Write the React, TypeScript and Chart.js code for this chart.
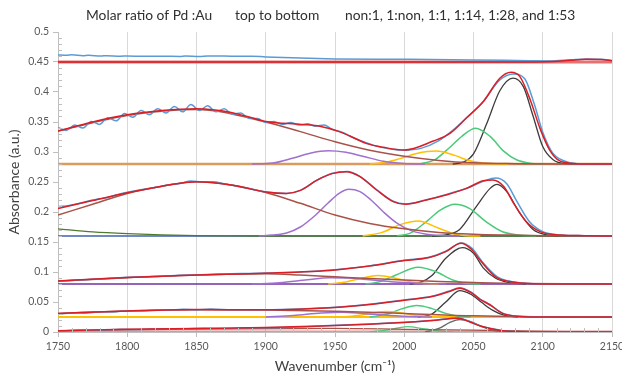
import React, { useEffect, useRef } from 'react';
import { Chart, registerables } from 'chart.js';
Chart.register(...registerables);

type P = [number, number][];

const titleParts = ['Molar ratio of Pd :Au', 'top to bottom', 'non:1, 1:non, 1:1, 1:14, 1:28, and 1:53'];
const xTitle = 'Wavenumber (cm\u207B\u00B9)';
const yTitle = 'Absorbance (a.u.)';
const xRange = [1750, 2150];
const yRange = [0, 0.5];

// ---- spectrum 1 (non:1) ----
const s1Base: P = [[1750, 0.45], [2150, 0.45]];
const s1Data: P = [[1750, 0.4618], [1756, 0.4611], [1760, 0.4619], [1768, 0.4605], [1772, 0.4611], [1781, 0.4600], [1785, 0.4606], [1795, 0.4597], [1800, 0.4600], [1812, 0.4595], [1825, 0.4597], [1838, 0.4593], [1842, 0.4600], [1852, 0.4591], [1858, 0.4598], [1870, 0.4599], [1880, 0.4594], [1890, 0.4596], [1900, 0.4585], [1925, 0.4565], [1950, 0.4552], [2000, 0.4545], [2050, 0.4535], [2090, 0.4522], [2105, 0.4518], [2120, 0.4538], [2132, 0.4552], [2142, 0.4545], [2150, 0.4525]];
const s1Fit: P = [[1750, 0.45], [2095, 0.45], [2108, 0.4508], [2120, 0.4528], [2131, 0.4545], [2142, 0.454], [2150, 0.4522]];

// ---- spectrum 2 (1:non) ----
const s2Base: P = [[1750, 0.28], [2150, 0.28]];
const s2Data: P = [[1750, 0.341], [1756, 0.336], [1762, 0.345], [1768, 0.340], [1774, 0.351], [1780, 0.346], [1786, 0.357], [1792, 0.352], [1798, 0.364], [1804, 0.358], [1810, 0.369], [1816, 0.362], [1822, 0.372], [1828, 0.365], [1834, 0.376], [1840, 0.367], [1846, 0.379], [1852, 0.369], [1858, 0.377], [1864, 0.367], [1870, 0.372], [1876, 0.363], [1882, 0.365], [1888, 0.356], [1894, 0.356], [1900, 0.349], [1906, 0.351], [1912, 0.346], [1918, 0.349], [1924, 0.345], [1930, 0.347], [1936, 0.343], [1942, 0.345], [1948, 0.338], [1955, 0.333], [1965, 0.322], [1978, 0.311], [1990, 0.305], [2000, 0.303], [2012, 0.306], [2025, 0.319], [2035, 0.336], [2045, 0.357], [2057, 0.384], [2069, 0.420], [2079, 0.430], [2087, 0.422], [2094, 0.379], [2100, 0.333], [2107, 0.299], [2115, 0.2855], [2125, 0.2806], [2150, 0.28]];
const s2Fit: P = [[1750, 0.335], [1775, 0.35], [1800, 0.362], [1825, 0.369], [1850, 0.372], [1875, 0.366], [1900, 0.351], [1926, 0.346], [1939, 0.343], [1953, 0.334], [1965, 0.322], [1973, 0.314], [1985, 0.3078], [2000, 0.3033], [2021, 0.3183], [2033, 0.331], [2045, 0.357], [2057, 0.3838], [2069, 0.4228], [2077, 0.4328], [2083.5, 0.4256], [2091, 0.3867], [2098, 0.3394], [2105, 0.3033], [2112, 0.2855], [2122, 0.281], [2135, 0.28], [2150, 0.28]];
const s2Broad: P = [[1750, 0.335], [1800, 0.361], [1850, 0.371], [1900, 0.35], [1925, 0.334], [1950, 0.317], [1975, 0.303], [2000, 0.293], [2025, 0.286], [2050, 0.282], [2080, 0.2805], [2110, 0.28], [2150, 0.28]];
const s2PeakA: P = [[1890, 0.28], [1905, 0.2815], [1920, 0.29], [1932, 0.298], [1945, 0.302], [1958, 0.2995], [1970, 0.293], [1985, 0.2845], [2000, 0.2808], [2015, 0.28]];
const s2PeakB: P = [[1975, 0.28], [1988, 0.2835], [1997, 0.289], [2009, 0.2975], [2023, 0.3015], [2037, 0.294], [2045, 0.287], [2053, 0.2828], [2065, 0.2803], [2075, 0.28]];
const s2PeakC: P = [[2012, 0.2805], [2022, 0.287], [2033, 0.308], [2042, 0.327], [2051.5, 0.3395], [2062, 0.326], [2072, 0.301], [2081, 0.287], [2092, 0.281], [2100, 0.28]];
const s2PeakD: P = [[2035, 0.28], [2043, 0.2835], [2050, 0.297], [2059.5, 0.347], [2069, 0.402], [2078.5, 0.423], [2086, 0.409], [2093, 0.36], [2100, 0.309], [2107.5, 0.287], [2117, 0.2805], [2125, 0.28]];

// ---- spectrum 3 (1:1) ----
const s3Base: P = [[1750, 0.16], [2150, 0.16]];
const s3Decay: P = [[1750, 0.172], [1775, 0.167], [1800, 0.164], [1825, 0.162], [1850, 0.1607], [1875, 0.1602], [1900, 0.16], [2150, 0.16]];
const s3Data: P = [[1750, 0.209], [1758, 0.211], [1765, 0.214], [1772, 0.2185], [1780, 0.222], [1788, 0.2255], [1796, 0.231], [1804, 0.2345], [1812, 0.238], [1820, 0.241], [1830, 0.245], [1838, 0.2475], [1846, 0.2515], [1854, 0.2505], [1862, 0.2505], [1870, 0.247], [1880, 0.2425], [1890, 0.238], [1900, 0.2335], [1915, 0.231], [1925, 0.236], [1937, 0.253], [1948, 0.2645], [1959, 0.2675], [1968, 0.2595], [1980, 0.2375], [1992, 0.218], [2001, 0.2135], [2016, 0.2205], [2030, 0.229], [2045, 0.2395], [2057, 0.251], [2066, 0.2565], [2074, 0.247], [2081, 0.219], [2090, 0.185], [2100, 0.1672], [2113, 0.1618], [2130, 0.1605], [2150, 0.16]];
const s3Fit: P = [[1750, 0.206], [1775, 0.219], [1800, 0.232], [1825, 0.243], [1850, 0.2505], [1875, 0.245], [1900, 0.2335], [1915, 0.231], [1925, 0.236], [1937, 0.253], [1948, 0.264], [1958, 0.2672], [1968, 0.259], [1980, 0.2367], [1992, 0.2172], [2001, 0.2128], [2016, 0.22], [2030, 0.2283], [2045, 0.2394], [2057, 0.2522], [2064, 0.2535], [2072, 0.2422], [2079, 0.2144], [2088, 0.184], [2098, 0.1672], [2113, 0.1617], [2130, 0.1605], [2150, 0.16]];
const s3Broad: P = [[1750, 0.195], [1775, 0.213], [1800, 0.231], [1825, 0.243], [1850, 0.2505], [1875, 0.245], [1900, 0.2325], [1925, 0.2145], [1950, 0.195], [1975, 0.181], [2000, 0.172], [2025, 0.166], [2050, 0.163], [2075, 0.1615], [2100, 0.1605], [2150, 0.16]];
const s3PeakA: P = [[1895, 0.16], [1905, 0.1615], [1915, 0.165], [1925, 0.175], [1935, 0.193], [1945, 0.215], [1953, 0.231], [1960, 0.2378], [1968, 0.234], [1976, 0.22], [1985, 0.2], [1995, 0.181], [2005, 0.169], [2015, 0.1635], [2030, 0.1605], [2040, 0.16]];
const s3PeakB: P = [[1970, 0.16], [1984, 0.166], [1997, 0.179], [2010, 0.185], [2025, 0.173], [2037, 0.163], [2048, 0.1602], [2055, 0.16]];
const s3PeakC: P = [[1995, 0.1605], [2004, 0.1644], [2016, 0.184], [2026, 0.203], [2036.5, 0.2128], [2047, 0.206], [2059, 0.184], [2071, 0.167], [2083, 0.1617], [2095, 0.16]];
const s3PeakD: P = [[2020, 0.16], [2030, 0.162], [2040, 0.171], [2052, 0.209], [2062, 0.2394], [2067, 0.246], [2074, 0.234], [2083.5, 0.198], [2093, 0.171], [2103, 0.1617], [2112, 0.16]];

// ---- spectrum 4 (1:14) ----
const s4Base: P = [[1750, 0.08], [2150, 0.08]];
const s4Data: P = [[1750, 0.0845], [1762, 0.0862], [1775, 0.0878], [1788, 0.0895], [1800, 0.0912], [1812, 0.0922], [1825, 0.093], [1838, 0.0945], [1850, 0.0952], [1862, 0.0962], [1875, 0.0972], [1888, 0.0976], [1900, 0.0982], [1925, 0.1], [1950, 0.1037], [1975, 0.1102], [2000, 0.1195], [2018, 0.1245], [2030, 0.1345], [2041, 0.1485], [2049, 0.1395], [2056, 0.118], [2067, 0.0925], [2077, 0.0843], [2090, 0.0808], [2105, 0.08], [2150, 0.08]];
const s4Fit: P = [[1750, 0.085], [1800, 0.091], [1850, 0.095], [1900, 0.098], [1950, 0.1035], [1975, 0.11], [2000, 0.119], [2018, 0.124], [2030, 0.134], [2041, 0.148], [2048, 0.139], [2055, 0.119], [2066, 0.092], [2076, 0.084], [2090, 0.0808], [2105, 0.08], [2150, 0.08]];
const s4Broad: P = [[1750, 0.085], [1800, 0.0905], [1850, 0.095], [1900, 0.097], [1925, 0.095], [1950, 0.092], [1975, 0.089], [2000, 0.0865], [2025, 0.084], [2050, 0.0825], [2080, 0.081], [2120, 0.0802], [2150, 0.08]];
const s4PeakA: P = [[1890, 0.08], [1910, 0.082], [1930, 0.087], [1946, 0.0905], [1960, 0.09], [1980, 0.086], [2000, 0.0825], [2015, 0.0808], [2030, 0.08]];
const s4PeakB: P = [[1945, 0.08], [1958, 0.0835], [1970, 0.09], [1981, 0.094], [1993, 0.09], [2005, 0.0835], [2018, 0.0805], [2025, 0.08]];
const s4PeakC: P = [[1972, 0.08], [1982, 0.0835], [1994, 0.095], [2010, 0.108], [2023, 0.1005], [2035, 0.0867], [2045, 0.081], [2055, 0.08]];
const s4PeakD: P = [[2004, 0.08], [2012, 0.083], [2020, 0.094], [2030, 0.1228], [2042, 0.1405], [2050, 0.131], [2057, 0.107], [2066, 0.0895], [2076, 0.0822], [2088, 0.08]];

// ---- spectrum 5 (1:28) ----
const s5Base: P = [[1750, 0.025], [2150, 0.025]];
const s5Data: P = [[1750, 0.0298], [1760, 0.0318], [1770, 0.0312], [1780, 0.0338], [1790, 0.0335], [1800, 0.0355], [1810, 0.0348], [1820, 0.0368], [1830, 0.0362], [1840, 0.0378], [1850, 0.0368], [1860, 0.0382], [1875, 0.0372], [1900, 0.0372], [1925, 0.0385], [1950, 0.0412], [1975, 0.0462], [2000, 0.0535], [2020, 0.0595], [2032, 0.0678], [2040, 0.0738], [2048, 0.0668], [2055, 0.0545], [2062, 0.0455], [2071, 0.0315], [2083, 0.0262], [2100, 0.025], [2150, 0.025]];
const s5Fit: P = [[1750, 0.031], [1800, 0.035], [1850, 0.0375], [1900, 0.037], [1950, 0.041], [1975, 0.046], [2000, 0.053], [2020, 0.059], [2032, 0.067], [2040, 0.073], [2048, 0.066], [2055, 0.054], [2062, 0.045], [2071, 0.031], [2083, 0.026], [2100, 0.025], [2150, 0.025]];
const s5Broad: P = [[1750, 0.031], [1800, 0.035], [1850, 0.037], [1900, 0.0365], [1950, 0.0345], [2000, 0.031], [2050, 0.027], [2100, 0.0255], [2150, 0.025]];
const s5PeakA: P = [[1900, 0.025], [1920, 0.0275], [1940, 0.0315], [1955, 0.033], [1970, 0.031], [1990, 0.0275], [2010, 0.0255], [2020, 0.025]];
const s5PeakB: P = [[1955, 0.025], [1968, 0.028], [1978, 0.032], [1987, 0.034], [1997, 0.032], [2008, 0.028], [2020, 0.0255], [2028, 0.025]];
const s5PeakC: P = [[1975, 0.025], [1988, 0.03], [1998, 0.0385], [2009, 0.044], [2020, 0.039], [2030, 0.031], [2040, 0.026], [2048, 0.025]];
const s5PeakD: P = [[2010, 0.025], [2020, 0.03], [2030, 0.05], [2040, 0.069], [2048, 0.063], [2056, 0.049], [2064, 0.036], [2072, 0.028], [2082, 0.025]];

// ---- spectrum 6 (1:53) ----
const s6Base: P = [[1750, 0.0], [2150, 0.0]];
const s6Data: P = [[1750, 0.0015], [1765, 0.0032], [1780, 0.0028], [1795, 0.0045], [1810, 0.0042], [1825, 0.0056], [1840, 0.0052], [1855, 0.0062], [1870, 0.0058], [1885, 0.007], [1900, 0.0072], [1925, 0.0085], [1946, 0.0108], [1975, 0.0132], [2000, 0.0162], [2020, 0.0192], [2039, 0.0235], [2047, 0.0175], [2055, 0.0102], [2062, 0.0062], [2071, 0.0022], [2085, 0.0005], [2100, 0.0], [2150, 0.0]];
const s6Fit: P = [[1750, 0.002], [1800, 0.0045], [1850, 0.006], [1900, 0.0075], [1946, 0.0105], [2000, 0.016], [2020, 0.019], [2039, 0.023], [2047, 0.017], [2055, 0.01], [2062, 0.006], [2071, 0.002], [2085, 0.0005], [2100, 0.0], [2150, 0.0]];
const s6Broad: P = [[1750, 0.002], [1850, 0.005], [1950, 0.006], [2000, 0.0045], [2050, 0.003], [2100, 0.001], [2150, 0.0]];
const s6PeakC: P = [[1975, 0.0], [1990, 0.004], [2002, 0.009], [2015, 0.005], [2028, 0.001], [2035, 0.0]];
const s6PeakD: P = [[2015, 0.0], [2025, 0.006], [2033, 0.016], [2040, 0.021], [2048, 0.017], [2056, 0.009], [2064, 0.003], [2075, 0.0]];

const C = {
  data: '#5B9BD5',
  fit: '#D91E26',
  broad: '#A8524A',
  a: '#A070D0',
  b: '#FFC000',
  c: '#4CC97A',
  d: '#3C3C3C',
};

function ds(pts: P, color: string, width: number, order: number) {
  return {
    data: pts.map(([x, y]) => ({ x, y })),
    borderColor: color,
    backgroundColor: color,
    borderWidth: width,
    pointRadius: 0,
    fill: false,
    cubicInterpolationMode: 'monotone' as const,
    order,
  };
}

const FONT = 'Lato, "Liberation Sans", sans-serif';

const minorTicks = {
  id: 'minorTicks',
  afterDraw(chart: any) {
    const { ctx, chartArea, scales } = chart;
    ctx.save();
    ctx.strokeStyle = '#BFBFBF';
    ctx.lineWidth = 1;
    ctx.beginPath();
    for (let v = 1; v < 50; v++) {
      if (v % 5 === 0) continue;
      const y = Math.round(scales.y.getPixelForValue(v / 100)) + 0.5;
      ctx.moveTo(chartArea.left, y);
      ctx.lineTo(chartArea.left + 4, y);
    }
    for (let w = 1760; w < 2150; w += 10) {
      if (w % 50 === 0) continue;
      const x = Math.round(scales.x.getPixelForValue(w)) + 0.5;
      ctx.moveTo(x, chartArea.bottom);
      ctx.lineTo(x, chartArea.bottom - 4);
    }
    ctx.stroke();
    ctx.restore();
  },
};

const titlePlugin = {
  id: 'splitTitle',
  afterDraw(chart: any) {
    const { ctx } = chart;
    ctx.save();
    ctx.fillStyle = '#303030';
    ctx.font = `13.8px ${FONT}`;
    ctx.textBaseline = 'middle';
    ctx.textAlign = 'left';
    const starts = [86, 235, 345];
    titleParts.forEach((t, i) => ctx.fillText(t, starts[i], 16));
    ctx.restore();
  },
};

export default function App() {
  const ref = useRef<HTMLCanvasElement>(null);
  useEffect(() => {
    document.body.style.margin = '0';
    Chart.defaults.font.family = FONT;
    const datasets: any[] = [
      ds(s1Base, 'rgba(224,90,90,0.85)', 3, 6),
      ds(s1Data, C.data, 1.5, 2),
      ds(s1Fit, C.fit, 1.5, 1),

      ds(s2Base, '#DB9A5E', 2.5, 6),
      ds(s2Broad, C.broad, 1.5, 4),
      ds(s2PeakA, C.a, 1.5, 4),
      ds(s2PeakB, C.b, 1.5, 4),
      ds(s2PeakC, C.c, 1.5, 4),
      ds(s2PeakD, C.d, 1.3, 4),
      ds(s2Data, C.data, 1.5, 2),
      ds(s2Fit, C.fit, 1.5, 1),

      ds(s3Base, '#3F5FAF', 1.5, 6),
      ds(s3Decay, '#4F7A2E', 1.3, 5),
      ds(s3Broad, C.broad, 1.5, 4),
      ds(s3PeakA, C.a, 1.5, 4),
      ds(s3PeakB, C.b, 1.5, 4),
      ds(s3PeakC, C.c, 1.5, 4),
      ds(s3PeakD, C.d, 1.3, 4),
      ds(s3Data, C.data, 1.5, 2),
      ds(s3Fit, C.fit, 1.5, 1),

      ds(s4Base, '#7030A0', 1.5, 6),
      ds(s4Broad, C.broad, 1.5, 4),
      ds(s4PeakA, C.a, 1.5, 4),
      ds(s4PeakB, C.b, 1.5, 4),
      ds(s4PeakC, C.c, 1.5, 4),
      ds(s4PeakD, C.d, 1.3, 4),
      ds(s4Data, C.data, 1.5, 2),
      ds(s4Fit, C.fit, 1.5, 1),

      ds(s5Base, '#FFC000', 2, 6),
      ds(s5Broad, C.broad, 1.5, 4),
      ds(s5PeakA, C.a, 1.5, 4),
      ds(s5PeakB, C.b, 1.5, 4),
      ds(s5PeakC, C.c, 1.5, 4),
      ds(s5PeakD, C.d, 1.3, 4),
      ds(s5Data, C.data, 1.5, 2),
      ds(s5Fit, C.fit, 1.5, 1),

      ds(s6Base, 'rgba(225,100,100,0.7)', 3, 6),
      ds(s6Broad, C.broad, 1.3, 4),
      ds(s6PeakC, C.c, 1.3, 4),
      ds(s6PeakD, '#6A6A6A', 1.5, 4),
      ds(s6Data, C.data, 1.5, 2),
      ds(s6Fit, C.fit, 1.5, 1),
    ];
    const chart = new Chart(ref.current!, {
      type: 'line',
      data: { datasets },
      plugins: [minorTicks, titlePlugin],
      options: {
        animation: false,
        responsive: false,
        layout: { padding: { left: 0, right: 10, top: 32, bottom: 0 } },
        plugins: {
          legend: { display: false },
          tooltip: { enabled: false },
          title: { display: false },
        },
        scales: {
          x: {
            type: 'linear',
            min: xRange[0],
            max: xRange[1],
            afterFit: (s: any) => { s.height = 46; s.paddingRight = 0; s.paddingLeft = 0; },
            ticks: { stepSize: 50, color: '#595959', font: { size: 10.5 }, padding: 3, maxRotation: 0, callback: (v: any) => String(v) },
            grid: { color: '#D9D9D9', tickColor: '#BFBFBF', tickLength: 5, drawTicks: true },
            border: { color: '#BFBFBF' },
            title: { display: true, text: xTitle, color: '#404040', font: { size: 14 }, padding: { top: 0, bottom: 3 } },
          },
          y: {
            type: 'linear',
            min: yRange[0],
            max: yRange[1],
            afterFit: (s: any) => { s.width = 58; s.paddingTop = 0; s.paddingBottom = 0; },
            ticks: { stepSize: 0.05, color: '#595959', font: { size: 10.5 }, padding: 4, callback: (v: any) => String(Number(Number(v).toFixed(2))) },
            grid: { drawOnChartArea: false, drawTicks: true, tickLength: 5, tickColor: '#BFBFBF' },
            border: { color: '#BFBFBF' },
            title: { display: true, text: yTitle, color: '#404040', font: { size: 14 }, padding: { top: 6, bottom: 0 } },
          },
        },
      } as any,
    });
    return () => chart.destroy();
  }, []);
  return (
    <div style={{ width: 622, height: 378 }}>
      <canvas ref={ref} width={622} height={378} />
    </div>
  );
}
